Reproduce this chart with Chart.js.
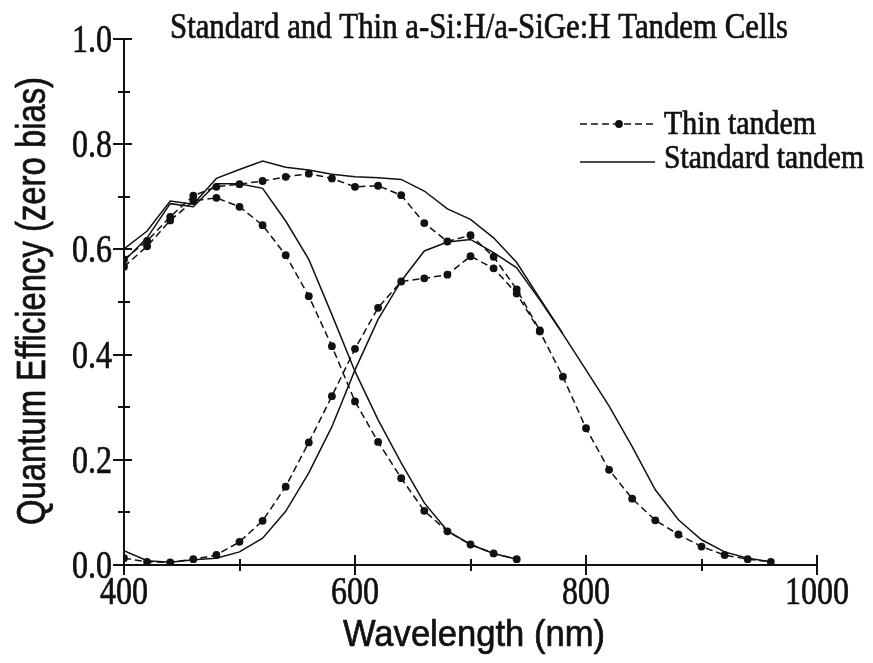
<!DOCTYPE html>
<html>
<head>
<meta charset="utf-8">
<title>Standard and Thin a-Si:H/a-SiGe:H Tandem Cells</title>
<script src="https://cdn.jsdelivr.net/npm/chart.js@4.4.1/dist/chart.umd.min.js"></script>
<style>
  html, body { margin: 0; padding: 0; background: #fff; }
  canvas { display: block; }
</style>
</head>
<body>
<canvas id="qe" width="873" height="663"></canvas>
<script>
// Wavelength grid (nm), 20 nm steps
const wavelengths = [400, 420, 440, 460, 480, 500, 520, 540, 560, 580,
                     600, 620, 640, 660, 680, 700, 720, 740, 760, 780,
                     800, 820, 840, 860, 880, 900, 920, 940, 960];

// Thin tandem: top cell, bottom cell and summed response
const thinTop = [0.567, 0.606, 0.655, 0.692, 0.698, 0.681, 0.646, 0.589, 0.511, 0.416,
                 0.311, 0.234, 0.165, 0.103, 0.064, 0.039, 0.022, 0.011];
const thinBottom = [0.013, 0.006, 0.005, 0.011, 0.019, 0.044, 0.084, 0.149, 0.233, 0.321,
                    0.411, 0.489, 0.539, 0.545, 0.552, 0.587, 0.564, 0.516, 0.444, 0.358,
                    0.260, 0.181, 0.126, 0.085, 0.058, 0.035, 0.019, 0.011, 0.006];
const thinTotal = [0.581, 0.616, 0.662, 0.702, 0.719, 0.724, 0.730, 0.738, 0.744, 0.735,
                   0.719, 0.721, 0.703, 0.650, 0.615, 0.627, 0.586, 0.524, 0.446];

// Standard tandem: top cell, bottom cell and summed response
const stdTop = [0.578, 0.622, 0.687, 0.681, 0.725, 0.725, 0.716, 0.654, 0.581, 0.476,
                0.368, 0.276, 0.194, 0.118, 0.065, 0.039, 0.022, 0.011];
const stdBottom = [0.027, 0.008, 0.005, 0.010, 0.013, 0.025, 0.051, 0.102, 0.175, 0.263,
                   0.371, 0.467, 0.540, 0.597, 0.614, 0.619, 0.594, 0.565, 0.504, 0.439,
                   0.371, 0.302, 0.225, 0.143, 0.086, 0.048, 0.025, 0.013, 0.006];
const stdTotal = [0.601, 0.635, 0.692, 0.686, 0.735, 0.752, 0.768, 0.756, 0.751, 0.743,
                  0.738, 0.736, 0.733, 0.711, 0.677, 0.657, 0.622, 0.575, 0.507, 0.440];

// Axis ticks and labels
const xTickValues = [400, 600, 800, 1000];
const xTickLabels = ['400', '600', '800', '1000'];
const yTickValues = [0, 0.2, 0.4, 0.6, 0.8, 1.0];
const yTickLabels = ['0.0', '0.2', '0.4', '0.6', '0.8', '1.0'];

const titleText = 'Standard and Thin a-Si:H/a-SiGe:H Tandem Cells';
const xTitle = 'Wavelength (nm)';
const yTitle = 'Quantum Efficiency (zero bias)';
const legendLabels = ['Thin tandem', 'Standard tandem'];

const ink = '#111';
const serif = '"Liberation Serif", "Times New Roman", serif';
const sans = '"Liberation Sans", Arial, sans-serif';

function pairs(values) {
  return values.map((v, i) => ({ x: wavelengths[i], y: v }));
}

function thinSet(values) {
  return {
    data: pairs(values),
    borderColor: ink, borderWidth: 1.5, borderDash: [7, 4],
    pointRadius: 3.9, pointBackgroundColor: ink, pointBorderWidth: 0,
    pointHoverRadius: 3.9, tension: 0, fill: false
  };
}
function stdSet(values) {
  return {
    data: pairs(values),
    borderColor: ink, borderWidth: 1.5,
    pointRadius: 0, pointHoverRadius: 0, tension: 0, fill: false
  };
}

// Draw text squeezed horizontally to a given width, slightly emboldened
function fittedText(ctx, text, x, y, font, width, align) {
  ctx.save();
  ctx.font = font;
  ctx.textAlign = 'left';
  ctx.textBaseline = 'alphabetic';
  const natural = ctx.measureText(text).width;
  const sx = width / natural;
  let left = x;
  if (align === 'center') left = x - width / 2;
  else if (align === 'right') left = x - width;
  ctx.translate(left, y);
  ctx.scale(sx, 1);
  ctx.fillText(text, 0, 0);
  ctx.lineWidth = 0.7;
  ctx.lineJoin = 'round';
  ctx.strokeText(text, 0, 0);
  ctx.restore();
}
function squeezedText(ctx, text, x, y, font, sx, align) {
  ctx.save();
  ctx.font = font;
  const w = ctx.measureText(text).width * sx;
  ctx.restore();
  fittedText(ctx, text, x, y, font, w, align);
}

// Axes with ticks crossing the axis line, labels, titles and legend
const paperFrame = {
  id: 'paperFrame',
  afterDraw(chart) {
    const { ctx, chartArea: a, scales: { x, y } } = chart;
    ctx.save();
    ctx.strokeStyle = ink;
    ctx.fillStyle = ink;
    ctx.lineWidth = 2;
    ctx.lineCap = 'butt';

    ctx.beginPath();
    ctx.moveTo(a.left, a.top);
    ctx.lineTo(a.left, a.bottom);
    ctx.lineTo(a.right, a.bottom);
    ctx.stroke();

    // y ticks every 0.1, longer on the labelled ones
    y.ticks.forEach(t => {
      const py = Math.round(y.getPixelForValue(t.value));
      const major = Math.round(t.value * 10) % 2 === 0;
      ctx.beginPath();
      ctx.moveTo(a.left - (major ? 11 : 6), py);
      ctx.lineTo(a.left + (major ? 8 : 6), py);
      ctx.stroke();
    });
    // x ticks every 100 nm
    x.ticks.forEach(t => {
      const px = Math.round(x.getPixelForValue(t.value));
      const major = Math.round(t.value) % 200 === 0;
      ctx.beginPath();
      ctx.moveTo(px, a.bottom - (major ? 10 : 6));
      ctx.lineTo(px, a.bottom + (major ? 10 : 6));
      ctx.stroke();
    });

    const tickFont = '39px ' + serif;
    yTickValues.forEach((v, i) => {
      squeezedText(ctx, yTickLabels[i], a.left - 12, y.getPixelForValue(v) + 13, tickFont, 0.82, 'right');
    });
    xTickValues.forEach((v, i) => {
      squeezedText(ctx, xTickLabels[i], x.getPixelForValue(v), a.bottom + 39, tickFont, 0.82, 'center');
    });

    // axis titles
    fittedText(ctx, xTitle, 474, 646, '37px ' + sans, 262, 'center');
    ctx.save();
    ctx.translate(45, 301);
    ctx.rotate(-Math.PI / 2);
    fittedText(ctx, yTitle, 0, 0, '40px ' + sans, 448, 'center');
    ctx.restore();

    // title
    fittedText(ctx, titleText, 170, 38, '36px ' + serif, 618, 'left');

    // legend
    ctx.lineWidth = 1.5;
    ctx.setLineDash([7, 4]);
    ctx.beginPath();
    ctx.moveTo(580, 124);
    ctx.lineTo(655, 124);
    ctx.stroke();
    ctx.setLineDash([]);
    ctx.beginPath();
    ctx.arc(619, 124, 3.9, 0, Math.PI * 2);
    ctx.fill();
    ctx.beginPath();
    ctx.moveTo(580, 162);
    ctx.lineTo(655, 162);
    ctx.stroke();
    fittedText(ctx, legendLabels[0], 664, 134, '33px ' + serif, 152, 'left');
    fittedText(ctx, legendLabels[1], 664, 168, '33px ' + serif, 200, 'left');

    ctx.restore();
  }
};

new Chart(document.getElementById('qe'), {
  type: 'line',
  data: {
    datasets: [
      thinSet(thinTop), thinSet(thinBottom), thinSet(thinTotal),
      stdSet(stdTop), stdSet(stdBottom), stdSet(stdTotal)
    ]
  },
  options: {
    responsive: false,
    animation: false,
    events: [],
    layout: { padding: { top: 39, right: 56, bottom: 0, left: 0 } },
    plugins: { legend: { display: false }, title: { display: false }, tooltip: { enabled: false } },
    scales: {
      x: {
        type: 'linear', min: 400, max: 1000,
        ticks: { display: false, stepSize: 100 },
        grid: { display: false }, border: { display: false },
        afterFit(s) { s.height = 98; }
      },
      y: {
        type: 'linear', min: 0, max: 1,
        ticks: { display: false, stepSize: 0.1 },
        grid: { display: false }, border: { display: false },
        afterFit(s) { s.width = 124; }
      }
    }
  },
  plugins: [paperFrame]
});
</script>
</body>
</html>
